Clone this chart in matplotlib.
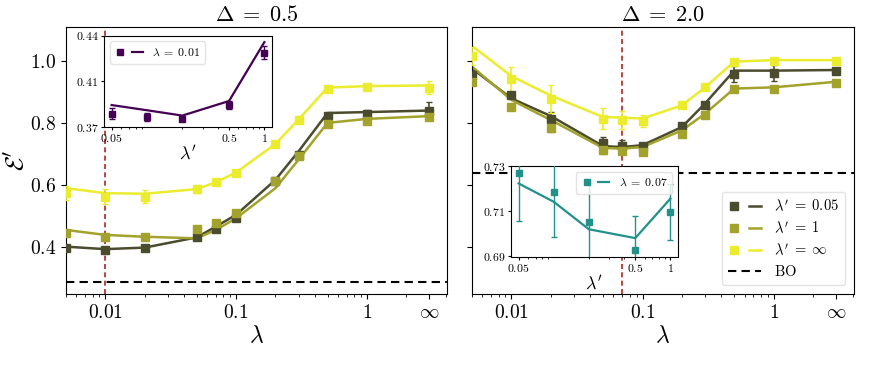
import matplotlib
matplotlib.use('Agg')
import matplotlib.pyplot as plt
from matplotlib.legend_handler import HandlerTuple
from matplotlib.ticker import FixedLocator, NullFormatter

plt.rcParams['mathtext.fontset'] = 'cm'
plt.rcParams['font.family'] = ['DejaVu Serif']

# lambda values, infinity drawn at 3
lam = [0.005, 0.01, 0.02, 0.05, 0.07, 0.1, 0.2, 0.3, 0.5, 1, 3]
INF = 3

# Delta = 0.5 : markers (data) and lines
d05_m = {
    '0.05': [0.395, 0.389, 0.395, 0.432, 0.457, 0.492, 0.611, 0.697, 0.822, 0.830, 0.838],
    '1':    [0.443, 0.432, 0.432, 0.456, 0.478, 0.508, 0.611, 0.694, 0.798, 0.805, 0.820],
    'inf':  [0.573, 0.562, 0.562, 0.587, 0.608, 0.638, 0.732, 0.809, 0.910, 0.917, 0.914],
}
d05_e = {
    '0.05': [0.008, 0.008, 0.006, 0.005, 0.005, 0.005, 0.005, 0.006, 0.008, 0.012, 0.028],
    '1':    [0.008, 0.006, 0.006, 0.008, 0.006, 0.006, 0.005, 0.005, 0.006, 0.006, 0.012],
    'inf':  [0.022, 0.025, 0.020, 0.012, 0.006, 0.006, 0.005, 0.005, 0.006, 0.006, 0.020],
}
d05_l = {
    '0.05': [0.400, 0.392, 0.397, 0.430, 0.465, 0.503, 0.616, 0.708, 0.832, 0.835, 0.840],
    '1':    [0.454, 0.438, 0.432, 0.427, 0.454, 0.492, 0.589, 0.681, 0.800, 0.813, 0.822],
    'inf':  [0.589, 0.573, 0.571, 0.586, 0.608, 0.640, 0.732, 0.811, 0.914, 0.919, 0.921],
}

# Delta = 2.0
d20_m = {
    '0.05': [0.955, 0.890, 0.814, 0.735, 0.725, 0.724, 0.789, 0.857, 0.958, 0.962, 0.968],
    '1':    [0.933, 0.850, 0.782, 0.711, 0.709, 0.706, 0.763, 0.825, 0.908, 0.911, 0.930],
    'inf':  [1.016, 0.941, 0.877, 0.814, 0.809, 0.806, 0.857, 0.915, 0.996, 1.001, 1.000],
}
d20_e = {
    '0.05': [0.010, 0.010, 0.020, 0.020, 0.020, 0.008, 0.008, 0.010, 0.025, 0.025, 0.010],
    '1':    [0.008, 0.008, 0.010, 0.010, 0.010, 0.008, 0.006, 0.006, 0.006, 0.006, 0.008],
    'inf':  [0.030, 0.040, 0.045, 0.035, 0.030, 0.020, 0.006, 0.006, 0.006, 0.006, 0.010],
}
d20_l = {
    '0.05': [0.976, 0.879, 0.822, 0.725, 0.722, 0.728, 0.787, 0.863, 0.969, 0.969, 0.971],
    '1':    [0.982, 0.874, 0.809, 0.719, 0.717, 0.722, 0.776, 0.830, 0.911, 0.915, 0.933],
    'inf':  [1.049, 0.951, 0.888, 0.819, 0.817, 0.814, 0.857, 0.915, 0.998, 1.003, 1.003],
}

bo_05 = 0.287
bo_20 = 0.639

# insets: lambda' sweep
lamp = [0.05, 0.1, 0.2, 0.5, 1]
in05_m = [0.3800, 0.3776, 0.3759, 0.3865, 0.4268]
in05_e = [0.0045, 0.0030, 0.0020, 0.0030, 0.0050]
in05_l = [0.3865, 0.3825, 0.3784, 0.3896, 0.4349]
in20_m = [0.7270, 0.7185, 0.7052, 0.6927, 0.7096]
in20_e = [0.0214, 0.0200, 0.0170, 0.0150, 0.0124]
in20_l = [0.7222, 0.7141, 0.7020, 0.6981, 0.7155]

keys = ['0.05', '1', 'inf']
labels = [r"$\lambda'\;=\;0.05$", r"$\lambda'\;=\;1$", r"$\lambda'\;=\;\infty$"]
colors = ['#4b4b2e', '#a2a22c', '#ecec2e']

fig = plt.figure(figsize=(8.8, 3.82), dpi=100)
W, H = 880, 382
ax1 = fig.add_axes([66 / W, 1 - 294 / H, (447 - 66) / W, (294 - 27) / H])
ax2 = fig.add_axes([472 / W, 1 - 294 / H, (854 - 472) / W, (294 - 27) / H], sharey=ax1)


def main_panel(ax, dm, de, dl, bo, lam_star, title):
    handles = []
    for k, c in zip(keys, colors):
        ln, = ax.plot(lam, dl[k], color=c, lw=1.8, zorder=2)
        ax.errorbar(lam, dm[k], yerr=de[k], fmt='s', color=c, ms=6,
                    capsize=2.5, elinewidth=1.2, zorder=3)
        mk, = ax.plot([], [], 's', color=c, ms=6)
        handles.append((mk, ln))
    bo_ln = ax.axhline(bo, color='black', ls='--', lw=1.5, dashes=(4, 2.5))
    ax.axvline(lam_star, color='#b22222', ls='--', lw=1.2, dashes=(3, 2))
    ax.set_xscale('log')
    ax.set_xlim(0.005, 4.1)
    ax.set_ylim(0.247, 1.11)
    ax.set_xticks([0.01, 0.1, 1, INF])
    ax.set_xticklabels([r'$0.01$', r'$0.1$', r'$1$', r'$\infty$'], fontsize=14)
    ax.set_xlabel(r'$\lambda$', fontsize=17, labelpad=2)
    ax.set_title(title, fontsize=16, pad=4)
    ax.tick_params(axis='x', which='minor', labelbottom=False)
    return handles, bo_ln


h1, _ = main_panel(ax1, d05_m, d05_e, d05_l, bo_05, 0.01, r'$\Delta\;=\;0.5$')
h2, bo2 = main_panel(ax2, d20_m, d20_e, d20_l, bo_20, 0.07, r'$\Delta\;=\;2.0$')

ax1.set_yticks([0.4, 0.6, 0.8, 1.0])
ax1.set_yticklabels([r'$0.4$', r'$0.6$', r'$0.8$', r'$1.0$'], fontsize=14)
ax1.set_ylabel(r"$\mathcal{E}'$", fontsize=18, labelpad=1)
ax2.tick_params(axis='y', labelleft=False)

ax2.legend(h2 + [bo2], labels + [r'$\mathrm{BO}$'],
           handler_map={tuple: HandlerTuple(ndivide=None, pad=0.6)},
           loc='lower right', fontsize=10.5, handlelength=2.3, handletextpad=0.9,
           borderaxespad=0.6, labelspacing=0.4, framealpha=0.8, edgecolor='#dddddd')


def inset(rect, xm, em, lm, color, ylim, ylabels, lab, loc):
    ax = fig.add_axes(rect)
    ln, = ax.plot(lamp, lm, color=color, lw=1.6, zorder=2)
    ax.errorbar(lamp, xm, yerr=em, fmt='s', color=color, ms=4.5,
                capsize=2, elinewidth=1, zorder=3)
    mk, = ax.plot([], [], 's', color=color, ms=4.5)
    ax.set_xscale('log')
    ax.set_ylim(*ylim)
    ax.set_yticks([ylim[0], (ylim[0] + ylim[1]) / 2, ylim[1]])
    ax.set_yticklabels(ylabels, fontsize=8.5)
    ax.xaxis.set_major_locator(FixedLocator([0.05, 0.5, 1]))
    ax.set_xticklabels([r'$0.05$', r'$0.5$', r'$1$'], fontsize=8.5)
    ax.xaxis.set_minor_formatter(NullFormatter())
    ax.tick_params(length=2.5, pad=1.5)
    ax.tick_params(which='minor', length=1.5)
    ax.set_xlabel(r"$\lambda'$", fontsize=13, labelpad=0)
    ax.legend([(mk, ln)], [lab], handler_map={tuple: HandlerTuple(ndivide=None, pad=0.5)},
              loc=loc, fontsize=8.5, handlelength=2.4, borderaxespad=0.5,
              framealpha=0.8, edgecolor='#dddddd')
    return ax


inset([104 / W, 1 - 126.5 / H, (272 - 104) / W, (126.5 - 35.5) / H],
      in05_m, in05_e, in05_l, '#440154', (0.37, 0.44),
      [r'$0.37$', r'$0.41$', r'$0.44$'], r'$\lambda\;=\;0.01$', 'upper left')
inset([511 / W, 1 - 256.5 / H, (678 - 511) / W, (256.5 - 165.7) / H],
      in20_m, in20_e, in20_l, '#21918c', (0.69, 0.73),
      [r'$0.69$', r'$0.71$', r'$0.73$'], r'$\lambda\;=\;0.07$', 'upper right')

fig.savefig('out.png', dpi=100)
